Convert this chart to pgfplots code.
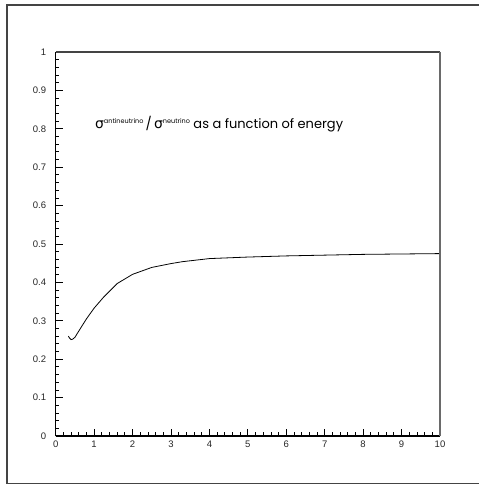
\documentclass[border=0pt]{standalone}
\usepackage{fontspec}
\setmainfont{Liberation Sans}
\newfontfamily\titlefont{Poppins}
\newfontfamily\greekfont{DejaVu Sans}
\usepackage{pgfplots}
\pgfplotsset{compat=1.18}
\definecolor{framegray}{HTML}{444444}
\definecolor{boxgray}{HTML}{6A6A6A}
\begin{document}
\begin{tikzpicture}
\begin{axis}[
  at={(0,0)}, anchor=south west,
  width=384.3pt, height=384pt, scale only axis,
  xmin=0, xmax=10, ymin=0, ymax=1,
  axis x line*=bottom, axis y line*=left,
  axis line style={line width=1.1pt, black},
  xtick={0,1,2,3,4,5,6,7,8,9,10},
  ytick={0,0.1,0.2,0.3,0.4,0.5,0.6,0.7,0.8,0.9,1},
  yticklabels={0,0.1,0.2,0.3,0.4,0.5,0.6,0.7,0.8,0.9,1},
  minor x tick num=4, minor y tick num=4,
  tick align=inside,
  major tick length=7pt, minor tick length=3.5pt,
  tick style={black, line width=0.8pt},
  tick label style={font=\fontsize{9.5}{11}\selectfont, text=black!85},
  /pgf/number format/assume math mode=true,
  yticklabel style={xshift=-6pt},
  xticklabel style={yshift=-1.5pt},
  clip=false,
]
\addplot[black, line width=0.8pt] coordinates {
 (0.33,0.260) (0.36,0.255) (0.40,0.251) (0.44,0.252) (0.50,0.257)
 (0.63,0.278) (0.80,0.305) (1.00,0.333) (1.25,0.362) (1.60,0.397)
 (2.00,0.421) (2.50,0.439) (3.00,0.449) (3.30,0.454) (4.00,0.462)
 (5.00,0.466) (6.00,0.469) (7.00,0.471) (8.00,0.473) (9.00,0.474)
 (10.00,0.475)
};
\draw[framegray, line width=1.2pt] (rel axis cs:0,1) -- (rel axis cs:1,1);
\draw[boxgray, line width=1.8pt] (rel axis cs:1,1) -- (rel axis cs:1,0);
\node[anchor=base west, inner sep=0pt, font=\titlefont\fontsize{13}{15}\selectfont]
  at (axis cs:1.02,0.80)
  {{\greekfont\fontsize{14}{15}\selectfont σ}\raisebox{5.5pt}{\fontsize{6.5}{7}\selectfont antineutrino}\,/\,{\greekfont\fontsize{14}{15}\selectfont σ}\raisebox{5.5pt}{\fontsize{6.5}{7}\selectfont neutrino} as a function of energy};
\end{axis}
\draw[framegray, line width=1.1pt] (430pt,431pt) -- (-48.7pt,431pt) -- (-48.7pt,-47.5pt) -- (430pt,-47.5pt);
\pgfresetboundingbox
\useasboundingbox (-55.7pt,-49pt) rectangle (423.3pt,436pt);
\end{tikzpicture}
\end{document}
